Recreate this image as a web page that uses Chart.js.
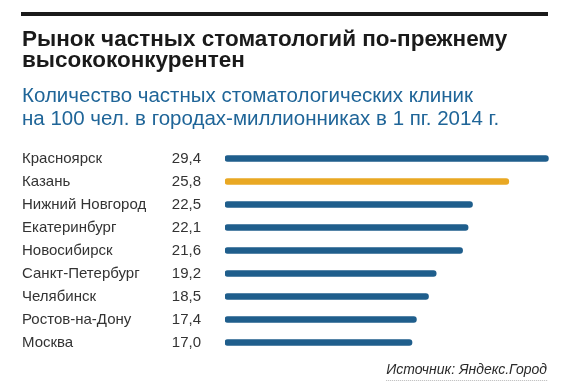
<!DOCTYPE html>
<html>
<head>
<meta charset="utf-8">
<script src="https://cdn.jsdelivr.net/npm/chart.js@4"></script>
<style>
  html, body { margin: 0; padding: 0; background: #fff; }
  #wrap { position: relative; width: 575px; height: 389px; }
</style>
</head>
<body>
<div id="wrap"><canvas id="chart" width="575" height="389"></canvas></div>
<script>
// data
var cities = ['Красноярск', 'Казань', 'Нижний Новгород', 'Екатеринбург', 'Новосибирск',
  'Санкт-Петербург', 'Челябинск', 'Ростов-на-Дону', 'Москва'];
var clinics = [29.4, 25.8, 22.5, 22.1, 21.6, 19.2, 18.5, 17.4, 17.0];
var highlightCity = 'Казань';

var titleLines = ['Рынок частных стоматологий по-прежнему', 'высококонкурентен'];
var subtitleLines = ['Количество частных стоматологических клиник',
  'на 100 чел. в городах-миллионниках в 1 пг. 2014 г.'];
var sourceText = 'Источник: Яндекс.Город';

var BLUE = '#1f5e8c';
var GOLD = '#e9a823';
var FONT = '"Liberation Sans", Arial, sans-serif';

function fmt(v) {
  return v.toFixed(1).replace('.', ',');
}

// black rule on top, value column, source line at the bottom
var decor = {
  id: 'decor',
  beforeDraw: function (chart) {
    var ctx = chart.ctx;
    ctx.save();
    ctx.fillStyle = '#1a1a1a';
    ctx.fillRect(21, 12, 527, 4);
    ctx.restore();
  },
  afterDatasetsDraw: function (chart) {
    var ctx = chart.ctx;
    var y = chart.scales.y;
    ctx.save();
    ctx.font = '15px ' + FONT;
    ctx.fillStyle = '#333';
    ctx.textAlign = 'right';
    ctx.textBaseline = 'middle';
    clinics.forEach(function (v, i) {
      ctx.fillText(fmt(v), 201, y.getPixelForValue(i));
    });

    ctx.font = 'italic 14px ' + FONT;
    ctx.fillStyle = '#2a2a2a';
    ctx.textBaseline = 'alphabetic';
    ctx.fillText(sourceText, 547, 374);
    var w = ctx.measureText(sourceText).width;
    ctx.fillStyle = '#b8b8b8';
    for (var x = 547 - w; x < 547; x += 2) {
      ctx.fillRect(x, 380, 1, 1);
    }
    ctx.restore();
  }
};

new Chart(document.getElementById('chart'), {
  type: 'bar',
  data: {
    labels: cities,
    datasets: [{
      data: clinics,
      backgroundColor: cities.map(function (c) { return c === highlightCity ? GOLD : BLUE; }),
      barThickness: 6,
      borderRadius: 3,
      borderSkipped: false
    }]
  },
  options: {
    indexAxis: 'y',
    responsive: false,
    animation: false,
    layout: { padding: { left: 22, right: 20, top: 0, bottom: 35 } },
    plugins: {
      legend: { display: false },
      tooltip: { enabled: false },
      title: {
        display: true,
        text: titleLines,
        align: 'start',
        color: '#1a1a1a',
        font: { family: FONT, size: 22.5, weight: 'bold', lineHeight: 0.94 },
        padding: { top: 29, bottom: 12 }
      },
      subtitle: {
        display: true,
        text: subtitleLines,
        align: 'start',
        color: '#1f6598',
        font: { family: FONT, size: 20.5, lineHeight: 1.14 },
        padding: { top: 1, bottom: 16 }
      }
    },
    scales: {
      x: { display: false, min: 0, max: 30 },
      y: {
        grid: { display: false, drawTicks: false },
        border: { display: false },
        ticks: {
          crossAlign: 'far',
          color: '#333',
          font: { family: FONT, size: 15 },
          padding: 0
        },
        afterFit: function (scale) { scale.width = 203; }
      }
    }
  },
  plugins: [decor]
});
</script>
</body>
</html>
